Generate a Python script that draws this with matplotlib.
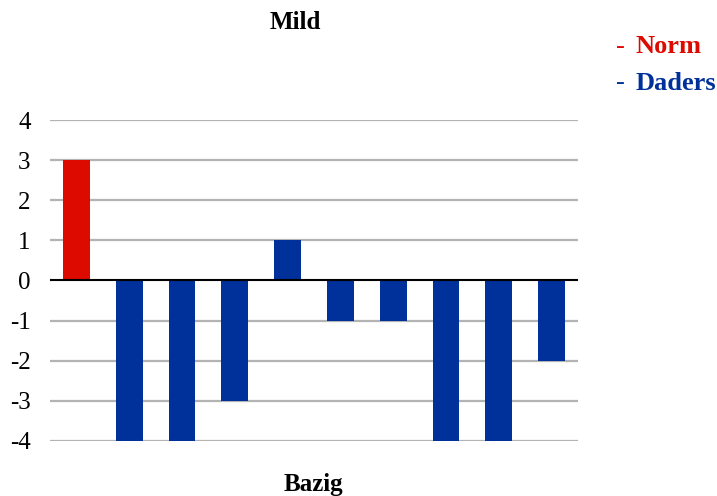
import matplotlib
matplotlib.use("Agg")
import matplotlib.pyplot as plt

# data
values = [3, -4, -4, -3, 1, -1, -1, -4, -4, -2]
groups = ["Norm", "Daders", "Daders", "Daders", "Daders", "Daders", "Daders", "Daders", "Daders", "Daders"]
colors = {"Norm": "#dd0a00", "Daders": "#00309a"}
yticks = [4, 3, 2, 1, 0, -1, -2, -3, -4]

plt.rcParams['font.family'] = ['Liberation Serif', 'DejaVu Serif']

fig = plt.figure(figsize=(7.17, 4.96), dpi=100)
ax = fig.add_axes([0.0697, 0.111, 0.7364, 0.647])

x = list(range(len(values)))
ax.bar(x, values, width=0.51, color=[colors[g] for g in groups], zorder=3)

ax.set_xlim(-0.5, len(values) - 0.5)
ax.set_ylim(-4, 4)
ax.set_yticks(yticks)
ax.set_yticklabels([str(v) for v in yticks], fontsize=18)
ax.set_xticks([])
for v in yticks:
    if v != 0:
        ax.axhline(v, color="#b3b3b3", lw=1.6, zorder=1)
ax.axhline(0, color="black", lw=1.5, zorder=4)
for s in ax.spines.values():
    s.set_visible(False)
ax.tick_params(axis="y", length=0, pad=14)

fig.text(0.412, 0.955, "Mild", ha="center", va="center", fontsize=18, fontweight="bold")
fig.text(0.437, 0.024, "Bazig", ha="center", va="center", fontsize=18, fontweight="bold")

# legend
fig.text(0.859, 0.906, "-", color=colors["Norm"], fontsize=19, va="center")
fig.text(0.887, 0.906, "Norm", color=colors["Norm"], fontsize=19, fontweight="bold", va="center")
fig.text(0.859, 0.832, "-", color=colors["Daders"], fontsize=19, va="center")
fig.text(0.887, 0.832, "Daders", color=colors["Daders"], fontsize=19, fontweight="bold", va="center")

fig.savefig("out.png", dpi=100)
